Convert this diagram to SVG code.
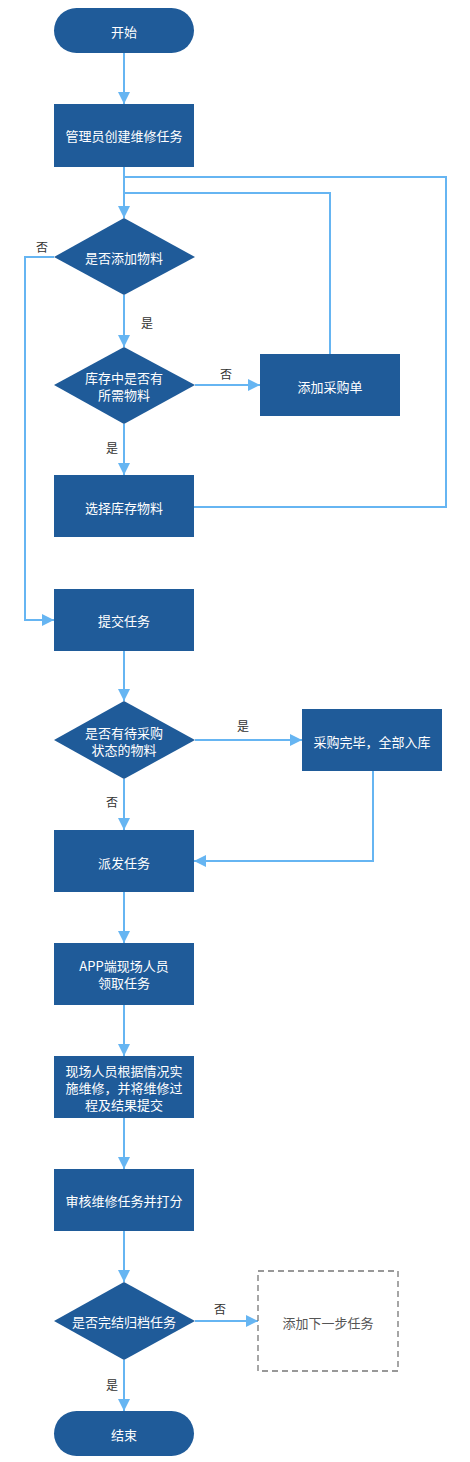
<svg xmlns="http://www.w3.org/2000/svg" width="470" height="1462" viewBox="0 0 470 1462">
<style>
.n{fill:#1f5b99;}
.t{fill:#ffffff;font-family:"Noto Sans CJK SC","Liberation Sans",sans-serif;font-size:13px;text-anchor:middle;dominant-baseline:central;}
.l{fill:#333333;font-family:"Noto Sans CJK SC","Liberation Sans",sans-serif;font-size:12px;text-anchor:middle;dominant-baseline:central;}
.c{fill:none;stroke:#66b5f2;stroke-width:2;}
.g{fill:#555555;font-family:"Noto Sans CJK SC","Liberation Sans",sans-serif;font-size:13px;text-anchor:middle;dominant-baseline:central;}
</style>
<defs>
<marker id="a" viewBox="0 0 10 10" refX="10" refY="5" markerWidth="6" markerHeight="6" markerUnits="strokeWidth" orient="auto">
<path d="M0,0 L10,5 L0,10 z" fill="#66b5f2"/>
</marker>
</defs>
<rect width="470" height="1462" fill="#ffffff"/>
<g id="connectors">
<path class="c" d="M124,53 V104" marker-end="url(#a)"/>
<path class="c" d="M124,167 V218" marker-end="url(#a)"/>
<path class="c" d="M124,177 H446 V507 H194"/>
<path class="c" d="M124,193 H330 V354"/>
<path class="c" d="M54,257 H25 V620 H54" marker-end="url(#a)"/>
<path class="c" d="M124,295 V347" marker-end="url(#a)"/>
<path class="c" d="M195,385 H260" marker-end="url(#a)"/>
<path class="c" d="M124,424 V475" marker-end="url(#a)"/>
<path class="c" d="M124,651 V701" marker-end="url(#a)"/>
<path class="c" d="M195,740 H302" marker-end="url(#a)"/>
<path class="c" d="M124,779 V830" marker-end="url(#a)"/>
<path class="c" d="M373,771 V861 H194" marker-end="url(#a)"/>
<path class="c" d="M124,892 V943" marker-end="url(#a)"/>
<path class="c" d="M124,1005 V1056" marker-end="url(#a)"/>
<path class="c" d="M124,1118 V1169" marker-end="url(#a)"/>
<path class="c" d="M124,1231 V1282" marker-end="url(#a)"/>
<path class="c" d="M195,1321 H258" marker-end="url(#a)"/>
<path class="c" d="M124,1360 V1411" marker-end="url(#a)"/>
<text class="l" x="42" y="246">否</text>
<text class="l" x="147" y="322">是</text>
<text class="l" x="226" y="373">否</text>
<text class="l" x="112" y="447">是</text>
<text class="l" x="243" y="725">是</text>
<text class="l" x="112" y="801">否</text>
<text class="l" x="220" y="1308">否</text>
<text class="l" x="112" y="1384">是</text>
</g>
<g id="start"><rect class="n" x="54" y="8" width="140" height="45" rx="22.5"/><text class="t" x="124" y="31">开始</text></g>
<g id="create"><rect class="n" x="54" y="104" width="140" height="63"/><text class="t" x="124" y="135">管理员创建维修任务</text></g>
<g id="d1"><polygon class="n" points="124,218 195,257 124,295 54,257"/><text class="t" x="124" y="257">是否添加物料</text></g>
<g id="d2"><polygon class="n" points="124,347 195,385 124,424 54,385"/><text class="t" x="124" y="377">库存中是否有</text><text class="t" x="124" y="394">所需物料</text></g>
<g id="purchase"><rect class="n" x="260" y="354" width="140" height="62"/><text class="t" x="330" y="386">添加采购单</text></g>
<g id="select"><rect class="n" x="54" y="475" width="140" height="62"/><text class="t" x="124" y="507">选择库存物料</text></g>
<g id="submit"><rect class="n" x="54" y="589" width="140" height="62"/><text class="t" x="124" y="620">提交任务</text></g>
<g id="d3"><polygon class="n" points="124,701 195,740 124,779 54,740"/><text class="t" x="124" y="732">是否有待采购</text><text class="t" x="124" y="749">状态的物料</text></g>
<g id="stockin"><rect class="n" x="302" y="709" width="140" height="62"/><text class="t" x="372" y="741">采购完毕，全部入库</text></g>
<g id="dispatch"><rect class="n" x="54" y="830" width="140" height="62"/><text class="t" x="124" y="862">派发任务</text></g>
<g id="app"><rect class="n" x="54" y="943" width="140" height="62"/><text class="t" x="124" y="965">APP端现场人员</text><text class="t" x="124" y="982">领取任务</text></g>
<g id="repair"><rect class="n" x="54" y="1056" width="140" height="62"/><text class="t" x="124" y="1070">现场人员根据情况实</text><text class="t" x="124" y="1087">施维修，并将维修过</text><text class="t" x="124" y="1104">程及结果提交</text></g>
<g id="review"><rect class="n" x="54" y="1169" width="140" height="62"/><text class="t" x="124" y="1200">审核维修任务并打分</text></g>
<g id="d4"><polygon class="n" points="124,1282 195,1321 124,1360 54,1321"/><text class="t" x="124" y="1321">是否完结归档任务</text></g>
<g id="next"><rect x="258" y="1271" width="140" height="100" fill="#ffffff" stroke="#777777" stroke-width="1.3" stroke-dasharray="6,4"/><text class="g" x="328" y="1322">添加下一步任务</text></g>
<g id="end"><rect class="n" x="54" y="1411" width="140" height="45" rx="22.5"/><text class="t" x="124" y="1434">结束</text></g>
</svg>
